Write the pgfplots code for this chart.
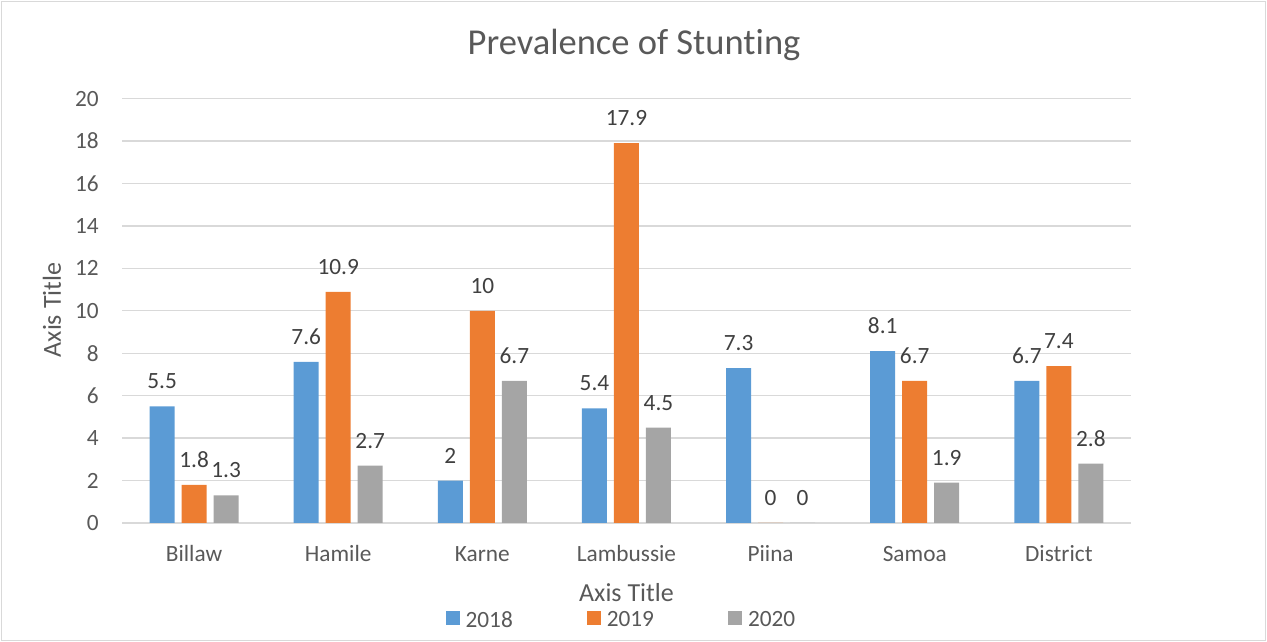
\documentclass[border=0pt]{standalone}
\usepackage{pgfplots}
\pgfplotsset{compat=1.18}
\usepackage{fontspec}
\setmainfont{Carlito}[Ligatures={NoCommon}]
\definecolor{c18}{HTML}{5B9BD5}
\definecolor{c19}{HTML}{ED7D31}
\definecolor{c20}{HTML}{A5A5A5}
\definecolor{gridc}{HTML}{D9D9D9}
\definecolor{txt}{HTML}{595959}
\definecolor{lbl}{HTML}{404040}
\begin{document}
\begin{tikzpicture}[x=1pt,y=1pt]
\path[use as bounding box] (0,0) rectangle (1267,642);
\draw[gridc, line width=1.5pt] (1.5,1.5) rectangle (1265.5,640.5);
\node[txt, font=\fontsize{36.5}{40}\selectfont] at (634,597) {Prevalence of Stunting};
\begin{axis}[
  at={(122pt,119pt)}, anchor=south west,
  width=1009pt, height=424.3pt, scale only axis,
  xmin=-0.5, xmax=6.5, ymin=0, ymax=20,
  ytick={0,2,...,20},
  xtick={0,...,6},
  xticklabels={Billaw,Hamile,Karne,Lambussie,Piina,Samoa,District},
  ybar=7pt, bar width=25pt,
  axis line style={draw=none},
  major tick length=0pt,
  ymajorgrids, grid style={gridc, line width=1.3pt},
  /pgf/number format/assume math mode=true,
  ticklabel style={font=\fontsize{23.3}{28}\selectfont, text=txt},
  yticklabel style={anchor=east, inner sep=0pt, xshift=-23pt},
  xticklabel style={anchor=base, yshift=-39pt},
  xlabel={Axis Title}, ylabel={Axis Title},
  label style={font=\fontsize{26}{30}\selectfont, text=txt},
  xlabel style={at={(axis description cs:0.5,-0.165)}, anchor=center},
  ylabel style={at={(axis description cs:-0.0694,0.502)}, anchor=center},
  nodes near coords,
  every node near coord/.append style={anchor=base, yshift=17.5pt, font=\fontsize{23.3}{28}\selectfont, text=lbl, inner sep=0pt},
  clip=false,
  legend columns=3,
  legend style={draw=none, at={(0.494,-0.2286)}, anchor=center, inner sep=0pt, outer sep=0pt,
    font=\fontsize{23.3}{28}\selectfont, text=txt,
    nodes={inner sep=0pt},
    /tikz/every odd column/.append style={column sep=6pt},
    /tikz/every even column/.append style={column sep=74pt}},
  legend image code/.code={\fill[#1] (0pt,-5pt) rectangle (14pt,9pt);},
]
\addplot[fill=c18, draw=none] coordinates {(0,5.5) (1,7.6) (2,2) (3,5.4) (4,7.3) (5,8.1) (6,6.7)};
\addplot[fill=c19, draw=none] coordinates {(0,1.8) (1,10.9) (2,10) (3,17.9) (4,0) (5,6.7) (6,7.4)};
\addplot[fill=c20, draw=none] coordinates {(0,1.3) (1,2.7) (2,6.7) (3,4.5) (4,0) (5,1.9) (6,2.8)};
\legend{2018,2019,2020}
\end{axis}
\end{tikzpicture}
\end{document}
